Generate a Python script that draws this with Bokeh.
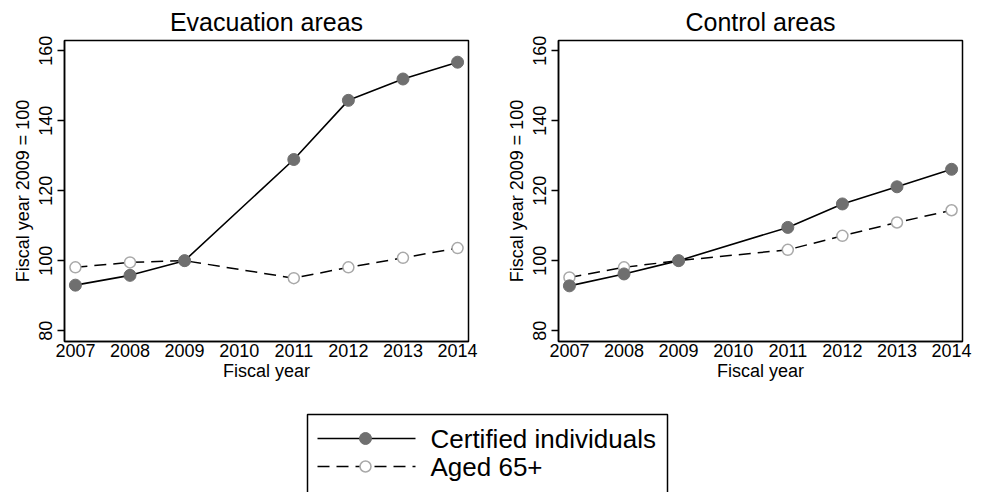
from bokeh.plotting import figure
from bokeh.layouts import column, row
from bokeh.models import FixedTicker, Range1d
from bokeh.core.properties import value
from bokeh.embed import file_html
from bokeh.resources import INLINE

years = [2007, 2008, 2009, 2011, 2012, 2013, 2014]
x_ticks = [2007, 2008, 2009, 2010, 2011, 2012, 2013, 2014]
y_ticks = [80, 100, 120, 140, 160]

evac_certified = [93.0, 95.8, 100.0, 128.9, 145.8, 151.9, 156.7]
evac_aged65 = [98.1, 99.5, 100.0, 95.0, 98.1, 100.8, 103.6]
ctrl_certified = [92.8, 96.2, 100.0, 109.5, 116.2, 121.1, 126.1]
ctrl_aged65 = [95.2, 98.1, 100.0, 103.1, 107.1, 110.9, 114.4]

panel_titles = ["Evacuation areas", "Control areas"]
series_names = ["Certified individuals", "Aged 65+"]

FONT = "Liberation Sans"
FILLED = "#6f6f6f"
HOLLOW = "#a9a9a9"
DASH = "12 7"


def make_panel(title, certified, aged, b_left, b_right):
    p = figure(width=b_left + 404 + b_right, height=39 + 302 + 51,
               min_border_left=b_left, min_border_right=b_right,
               min_border_top=39, min_border_bottom=51,
               x_range=Range1d(2006.8, 2014.2), y_range=Range1d(76.9, 162.9),
               output_backend="svg", toolbar_location=None, title=title)
    p.title.text_font = FONT
    p.title.text_font_size = "25px"
    p.title.text_font_style = "normal"
    p.title.align = "center"
    p.title.text_color = "black"
    p.title.standoff = 10
    p.xgrid.visible = False
    p.ygrid.visible = False
    p.outline_line_color = "black"
    p.outline_line_width = 1.5
    p.background_fill_color = "white"
    p.border_fill_color = "white"
    for ax in (p.xaxis[0], p.yaxis[0]):
        ax.axis_line_color = "black"
        ax.axis_line_width = 1.5
        ax.major_tick_line_color = "black"
        ax.major_tick_line_width = 1.5
        ax.major_tick_in = 0
        ax.minor_tick_line_color = None
        ax.major_label_text_font = FONT
        ax.major_label_text_font_size = "18px"
        ax.major_label_text_color = "black"
        ax.axis_label_text_font = FONT
        ax.axis_label_text_font_size = "18px"
        ax.axis_label_text_font_style = "normal"
        ax.axis_label_text_color = "black"
    p.xaxis.ticker = FixedTicker(ticks=x_ticks)
    p.yaxis.ticker = FixedTicker(ticks=y_ticks)
    p.xaxis.major_tick_out = 0
    p.yaxis.major_tick_out = 7
    p.xaxis.major_label_standoff = 2
    p.xaxis.axis_label_standoff = 1
    p.xaxis.axis_label = "Fiscal year"
    p.yaxis.axis_label = "Fiscal year 2009 = 100"
    p.yaxis.major_label_orientation = "vertical"
    p.yaxis.major_label_standoff = 5
    p.yaxis.axis_label_standoff = 4

    p.line(years, aged, line_color="black", line_width=1.5, line_dash=DASH)
    p.scatter(years, aged, size=11, fill_color="white", line_color=HOLLOW, line_width=1.5)
    p.line(years, certified, line_color="black", line_width=1.6)
    p.scatter(years, certified, size=12, fill_color=FILLED, line_color=FILLED)
    return p


p1 = make_panel(panel_titles[0], evac_certified, evac_aged65, 64, 26)
p2 = make_panel(panel_titles[1], ctrl_certified, ctrl_aged65, 64, 22)

# legend panel
lg = figure(width=984, height=100, x_range=Range1d(0, 984), y_range=Range1d(100, 0),
            output_backend="svg", toolbar_location=None,
            min_border=0, outline_line_color=None)
lg.axis.visible = False
lg.xgrid.visible = False
lg.ygrid.visible = False
lg.quad(left=[307], right=[667], top=[22], bottom=[160], fill_color="white",
        line_color="black", line_width=1.5)
row_y = [46, 74]
lg.segment(x0=[317], y0=[row_y[0]], x1=[415], y1=[row_y[0]], line_color="black", line_width=1.6)
lg.segment(x0=[317], y0=[row_y[1]], x1=[415], y1=[row_y[1]], line_color="black", line_width=1.5,
           line_dash=DASH)
lg.scatter([365], [row_y[0]], size=12, fill_color=FILLED, line_color=FILLED)
lg.scatter([365], [row_y[1]], size=11, fill_color="white", line_color=HOLLOW, line_width=1.5)
lg.text(x=[430, 430], y=row_y, text=series_names, text_font=value(FONT),
        text_font_size="26px", text_baseline="middle", text_align="left", text_color="black")

layout = column(row(p1, p2), lg)
open("out.html", "w").write(file_html(layout, INLINE))
